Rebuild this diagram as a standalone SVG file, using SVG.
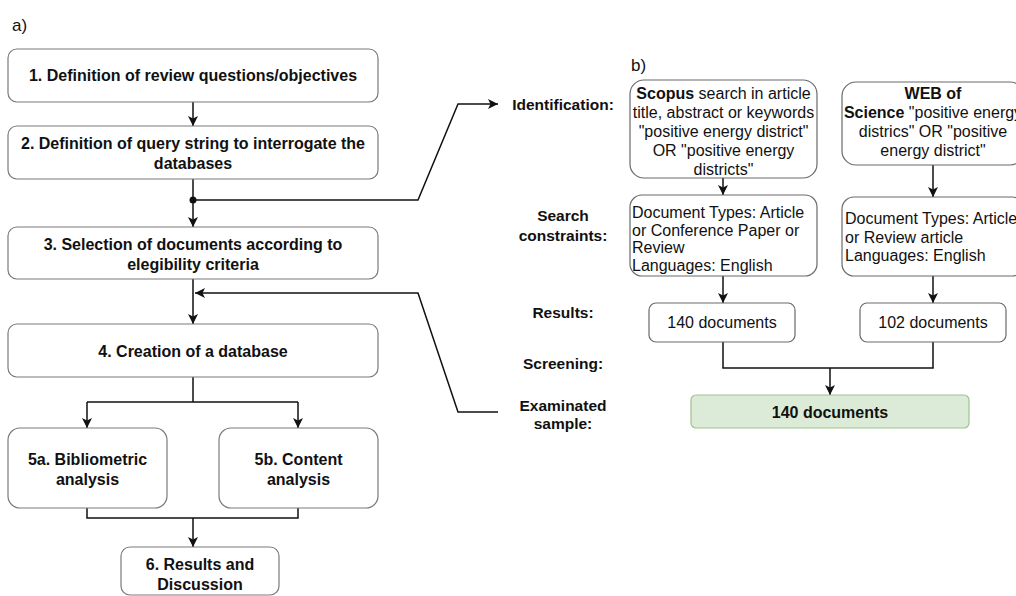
<svg xmlns="http://www.w3.org/2000/svg" width="1016" height="596" viewBox="0 0 1016 596">
<style>
.box{fill:#ffffff;stroke:#7a7a7a;stroke-width:1.2}
.rbox{fill:#ffffff;stroke:#6a6a6a;stroke-width:1.2}
.green{fill:#dcebd8;stroke:#9cc48f;stroke-width:1.2}
.bt{font-family:"Liberation Sans",Arial,sans-serif;font-size:16px;font-weight:bold;fill:#111;text-anchor:middle}
.lt{font-family:"Liberation Sans",Arial,sans-serif;font-size:15.5px;font-weight:bold;fill:#111;text-anchor:middle}
.rt{font-family:"Liberation Sans",Arial,sans-serif;font-size:16px;fill:#111}
.c{text-anchor:middle}
.conn{fill:none;stroke:#111;stroke-width:1.5}
</style>
<defs>
<marker id="arr" markerUnits="userSpaceOnUse" viewBox="0 0 10 10" refX="10" refY="5" markerWidth="10" markerHeight="10" orient="auto">
<path d="M0,0 L10,5 L0,10 L2.5,5 Z" fill="#111"/>
</marker>
</defs>
<text x="12" y="31" style="font-family:'Liberation Sans',Arial,sans-serif;font-size:17px;fill:#111">a)</text>
<text x="631" y="71" style="font-family:'Liberation Sans',Arial,sans-serif;font-size:17px;fill:#111">b)</text>

<g id="connectors">
<path class="conn" d="M193,102 V126" marker-end="url(#arr)"/>
<path class="conn" d="M193,179 V227" marker-end="url(#arr)"/>
<path class="conn" d="M193,200 H418 L458,104 H498" marker-end="url(#arr)"/>
<circle cx="193" cy="200" r="3.5" fill="#111"/>
<path class="conn" d="M193,279 V324" marker-end="url(#arr)"/>
<path class="conn" d="M498,412 H458 L418,293 H195" marker-end="url(#arr)"/>
<path class="conn" d="M193,377 V402 M87,402 H298"/>
<path class="conn" d="M87,402 V428" marker-end="url(#arr)"/>
<path class="conn" d="M298,402 V428" marker-end="url(#arr)"/>
<path class="conn" d="M87,508 V518 H298 V508"/>
<path class="conn" d="M193,518 V547" marker-end="url(#arr)"/>
<path class="conn" d="M723,178 V195" marker-end="url(#arr)"/>
<path class="conn" d="M933,165 V197" marker-end="url(#arr)"/>
<path class="conn" d="M723,276 V303" marker-end="url(#arr)"/>
<path class="conn" d="M933,276 V303" marker-end="url(#arr)"/>
<path class="conn" d="M723,342 V368 H933 V342"/>
<path class="conn" d="M830,368 V395" marker-end="url(#arr)"/>
</g>

<g id="n1"><rect class="box" x="8" y="49" width="370" height="53" rx="9"/>
<text class="bt" x="193" y="81">1. Definition of review questions/objectives</text></g>
<g id="n2"><rect class="box" x="8" y="126" width="370" height="53" rx="9"/>
<text class="bt" x="193" y="149">2. Definition of query string to interrogate the</text>
<text class="bt" x="193" y="169">databases</text></g>
<g id="n3"><rect class="box" x="8" y="227" width="370" height="52" rx="9"/>
<text class="bt" x="193" y="250">3. Selection of documents according to</text>
<text class="bt" x="193" y="270">elegibility criteria</text></g>
<g id="n4"><rect class="box" x="8" y="324" width="370" height="53" rx="9"/>
<text class="bt" x="193" y="357">4. Creation of a database</text></g>
<g id="n5a"><rect class="box" x="8" y="428" width="159" height="80" rx="12"/>
<text class="bt" x="87.5" y="465">5a. Bibliometric</text>
<text class="bt" x="87.5" y="485">analysis</text></g>
<g id="n5b"><rect class="box" x="219" y="428" width="159" height="80" rx="12"/>
<text class="bt" x="298.5" y="465">5b. Content</text>
<text class="bt" x="298.5" y="485">analysis</text></g>
<g id="n6"><rect class="box" x="121" y="547" width="158" height="48" rx="9"/>
<text class="bt" x="200" y="570">6. Results and</text>
<text class="bt" x="200" y="590">Discussion</text></g>

<g id="labels">
<text class="lt" x="563" y="109.5">Identification:</text>
<text class="lt" x="563" y="220.5">Search</text>
<text class="lt" x="563" y="240.5">constraints:</text>
<text class="lt" x="563" y="317.5">Results:</text>
<text class="lt" x="563" y="368.5">Screening:</text>
<text class="lt" x="563" y="410.5">Examinated</text>
<text class="lt" x="563" y="428.5">sample:</text>
</g>

<g id="scopus"><rect class="rbox" x="630" y="80" width="187" height="98" rx="14"/>
<text class="rt c" x="723.5" y="99"><tspan font-weight="bold">Scopus</tspan> search in article</text>
<text class="rt c" x="723.5" y="118">title, abstract or keywords</text>
<text class="rt c" x="723.5" y="137">"positive energy district"</text>
<text class="rt c" x="723.5" y="156">OR "positive energy</text>
<text class="rt c" x="723.5" y="175">districts"</text></g>
<g id="wos"><rect class="rbox" x="842" y="82" width="182" height="83" rx="14"/>
<text class="rt c" x="933" y="99" font-weight="bold">WEB of</text>
<text class="rt c" x="933" y="118"><tspan font-weight="bold">Science</tspan> "positive energy</text>
<text class="rt c" x="933" y="137">districs" OR "positive</text>
<text class="rt c" x="933" y="156">energy district"</text></g>
<g id="sc1"><rect class="rbox" x="630" y="195" width="187" height="81" rx="12"/>
<text class="rt" x="632" y="218">Document Types: Article</text>
<text class="rt" x="632" y="236">or Conference Paper or</text>
<text class="rt" x="632" y="253">Review</text>
<text class="rt" x="632" y="271">Languages: English</text></g>
<g id="sc2"><rect class="rbox" x="842" y="197" width="182" height="79" rx="12"/>
<text class="rt" x="845" y="224">Document Types: Article</text>
<text class="rt" x="845" y="243">or Review article</text>
<text class="rt" x="845" y="261">Languages: English</text></g>
<g id="r1"><rect class="rbox" x="649" y="303" width="146" height="39" rx="7"/>
<text class="rt c" x="722" y="328">140 documents</text></g>
<g id="r2"><rect class="rbox" x="860" y="303" width="146" height="39" rx="7"/>
<text class="rt c" x="933" y="328">102 documents</text></g>
<g id="final"><rect class="green" x="691" y="395" width="278" height="33" rx="5"/>
<text class="bt" x="830" y="418">140 documents</text></g>
</svg>
